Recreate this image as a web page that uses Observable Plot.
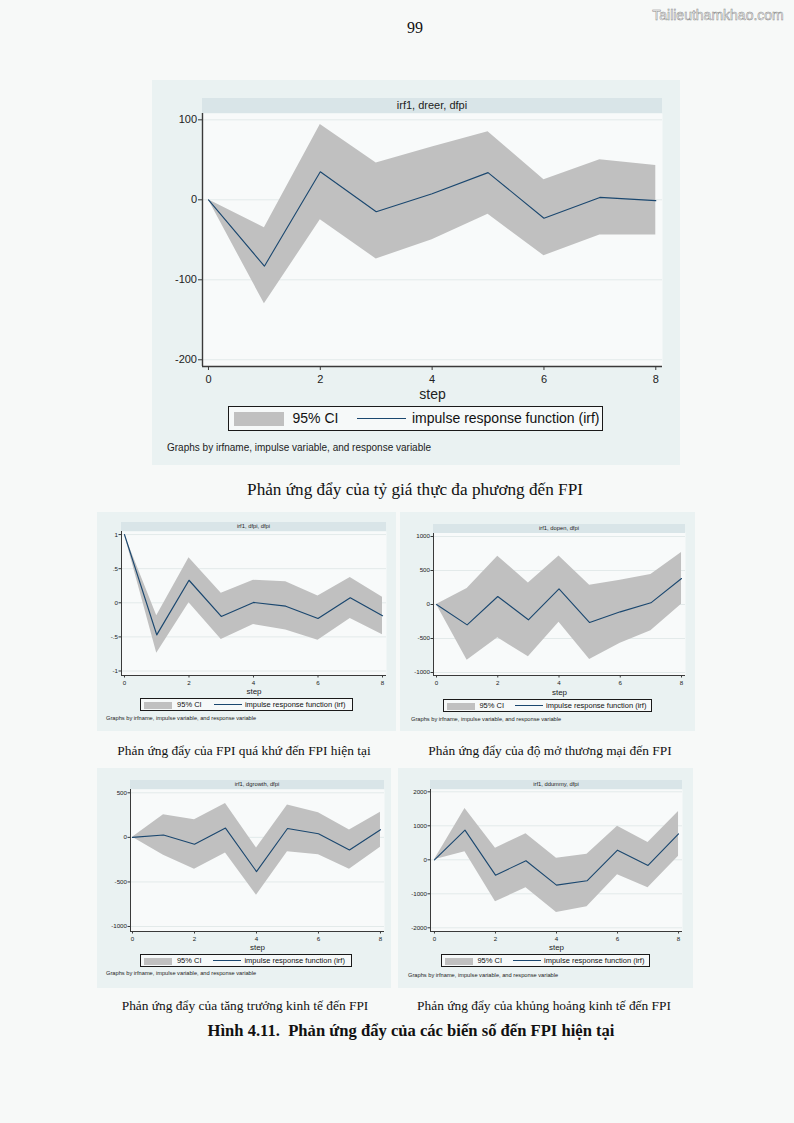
<!DOCTYPE html>
<html><head><meta charset="utf-8">
<script src="https://cdn.jsdelivr.net/npm/d3@7"></script>
<script src="https://cdn.jsdelivr.net/npm/@observablehq/plot@0.6"></script>
<style>
html,body{margin:0;padding:0;}
body{width:794px;height:1123px;background:#f7f9f8;position:relative;overflow:hidden;font-family:"Liberation Serif","Times New Roman",serif;}
.panel{position:absolute;background:#eaf2f2;}
.svgbox{position:absolute;}
.strip{position:absolute;background:#d9e5e8;font-family:"Liberation Sans",Arial,sans-serif;color:#222;text-align:center;white-space:nowrap;}
.legend{position:absolute;border:1px solid #1a1a1a;background:#f6f9f9;box-sizing:border-box;font-family:"Liberation Sans",Arial,sans-serif;color:#111;}
.legend div{position:absolute;white-space:nowrap;}
.note{position:absolute;font-family:"Liberation Sans",Arial,sans-serif;color:#222;white-space:nowrap;}
.cap{position:absolute;white-space:nowrap;transform:translate(-50%,-50%);color:#111;}
</style></head><body>
<div class="cap" style="left:415px;top:28px;font-size:16px;">99</div>
<div class="cap" style="left:718px;top:15px;font-size:14px;font-family:'Liberation Sans',Arial,sans-serif;color:#fbfbfb;-webkit-text-stroke:0.5px #8a8a8a;">Tailieuthamkhao.com</div>
<div class="cap" style="left:415px;top:490px;font-size:17.2px;">Phản ứng đẩy của tỷ giá thực đa phương đến FPI</div>
<div class="cap" style="left:244px;top:751px;font-size:13.4px;">Phản ứng đẩy của FPI quá khứ đến FPI hiện tại</div>
<div class="cap" style="left:550px;top:751px;font-size:13.4px;">Phản ứng đẩy của độ mở thương mại đến FPI</div>
<div class="cap" style="left:245px;top:1006px;font-size:13.4px;">Phản ứng đẩy của tăng trưởng kinh tế đến FPI</div>
<div class="cap" style="left:544px;top:1006px;font-size:13.4px;">Phản ứng đẩy của khủng hoảng kinh tế đến FPI</div>
<div class="cap" style="left:411px;top:1031px;font-size:16.6px;font-weight:bold;">Hình 4.11.&nbsp; Phản ứng đẩy của các biến số đến FPI hiện tại</div>
<script>
// ---- data ----
const steps = [0, 1, 2, 3, 4, 5, 6, 7, 8];
const xTicks = [0, 2, 4, 6, 8];

const dreerIrf = [0, -83, 35, -15, 7.5, 34, -23, 3, -1];
const dreerLo  = [0, -130, -25, -74, -50, -18, -70, -44, -44];
const dreerHi  = [0, -35, 94, 46, 66, 85, 25, 50, 43];
const dreerTicks = [-200, -100, 0, 100];

const dfpiIrf = [1, -0.47, 0.33, -0.2, 0.005, -0.05, -0.23, 0.074, -0.19];
const dfpiLo  = [1, -0.74, 0, -0.54, -0.32, -0.4, -0.55, -0.23, -0.47];
const dfpiHi  = [1, -0.19, 0.66, 0.14, 0.33, 0.31, 0.1, 0.37, 0.08];
const dfpiTicks = [-1, -0.5, 0, 0.5, 1];

const dopenIrf = [0, -299, 118, -225, 230, -265, -108, 25, 382];
const dopenLo  = [0, -818, -490, -769, -260, -808, -568, -387, 5];
const dopenHi  = [0, 235, 710, 318, 715, 284, 358, 441, 764];
const dopenTicks = [-1000, -500, 0, 500, 1000];

const dgrowthIrf = [0, 26, -78, 104, -384, 100, 41, -142, 86];
const dgrowthLo  = [0, -201, -358, -175, -649, -160, -194, -358, -112];
const dgrowthHi  = [0, 254, 198, 380, -119, 362, 276, 82, 283];
const dgrowthTicks = [-1000, -500, 0, 500];

const ddummyIrf = [0, 872, -451, -29, -745, -617, 284, -167, 764];
const ddummyLo  = [0, 235, -1235, -823, -1548, -1382, -441, -823, 108];
const ddummyHi  = [0, 1509, 343, 764, 49, 167, 990, 510, 1421];
const ddummyTicks = [-2000, -1000, 0, 1000, 2000];

const fmt = d => {
  if (d === 0) return "0";
  const a = Math.abs(d);
  const s = a < 1 ? String(a).replace(/^0/, "") : String(a);
  return (d < 0 ? "-" : "") + s;
};

// ---- layout configs ----
const charts = [
  {title: "irf1, dreer, dfpi", irf: dreerIrf, lo: dreerLo, hi: dreerHi, yt: dreerTicks,
   panel: [152, 80, 528, 385], frame: [202, 113, 662, 366], xd: [-0.107, 8.12], yd: [-208.4, 107.9],
   strip: [98, 15], stripFont: 11, tickFont: 11, tickSize: 4, tickPad: 1.5, xPad: 4.5, stepFont: 14, stepDy: 28,
   legend: [228, 406, 375, 25], legFont: 14, note: [167, 448], noteFont: 10, lw: 1.1, axw: 1.4},
  {title: "irf1, dfpi, dfpi", irf: dfpiIrf, lo: dfpiLo, hi: dfpiHi, yt: dfpiTicks,
   panel: [97, 512, 299, 219], frame: [121, 531, 386, 675], xd: [-0.093, 8.124], yd: [-1.066, 1.045],
   strip: [522, 9], stripFont: 5.8, tickFont: 6.2, tickSize: 2.5, tickPad: 1, xPad: 2.5, stepFont: 8, stepDy: 16,
   legend: [140, 698, 213, 13], legFont: 7.5, note: [106, 718], noteFont: 5.7, lw: 1.2, axw: 1},
  {title: "irf1, dopen, dfpi", irf: dopenIrf, lo: dopenLo, hi: dopenHi, yt: dopenTicks,
   panel: [400, 512, 295, 219], frame: [433, 532, 685, 675], xd: [-0.098, 8.13], yd: [-1044, 1059],
   strip: [524, 8.5], stripFont: 5.8, tickFont: 6.2, tickSize: 2.5, tickPad: 1, xPad: 2.5, stepFont: 8, stepDy: 17,
   legend: [443, 699, 209, 13], legFont: 7.5, note: [411, 719], noteFont: 5.7, lw: 1.1, axw: 1},
  {title: "irf1, dgrowth, dfpi", irf: dgrowthIrf, lo: dgrowthLo, hi: dgrowthHi, yt: dgrowthTicks,
   panel: [97, 768, 294, 220], frame: [130, 789, 384, 931], xd: [-0.065, 8.13], yd: [-1056, 537],
   strip: [780, 9], stripFont: 5.8, tickFont: 6.2, tickSize: 2.5, tickPad: 1, xPad: 2.5, stepFont: 8, stepDy: 16,
   legend: [140, 954, 212, 13], legFont: 7.5, note: [106, 973], noteFont: 5.7, lw: 1.1, axw: 1},
  {title: "irf1, ddummy, dfpi", irf: ddummyIrf, lo: ddummyLo, hi: ddummyHi, yt: ddummyTicks,
   panel: [398, 768, 295, 220], frame: [430, 789, 682, 931], xd: [-0.13, 8.13], yd: [-2109, 2068],
   strip: [780, 9], stripFont: 5.8, tickFont: 6.2, tickSize: 2.5, tickPad: 1, xPad: 2.5, stepFont: 8, stepDy: 16,
   legend: [441, 954, 209, 13], legFont: 7.5, note: [408, 975], noteFont: 5.7, lw: 1.1, axw: 1}
];

function el(cls, style, html) {
  const d = document.createElement("div");
  d.className = cls;
  Object.assign(d.style, style);
  if (html != null) d.innerHTML = html;
  document.body.appendChild(d);
  return d;
}

for (const c of charts) {
  const [pl, pt, pw, ph] = c.panel;
  const [fl, ft, fr, fb] = c.frame;
  el("panel", {left: pl + "px", top: pt + "px", width: pw + "px", height: ph + "px"});

  const data = steps.map((s, i) => ({step: s, irf: c.irf[i], lo: c.lo[i], hi: c.hi[i]}));
  const svg = Plot.plot({
    width: pw, height: ph,
    marginLeft: fl - pl, marginTop: ft - pt, marginRight: pl + pw - fr, marginBottom: pt + ph - fb,
    style: {background: "transparent", fontFamily: "Liberation Sans, Arial, sans-serif", color: "#222", overflow: "visible"},
    x: {domain: c.xd},
    y: {domain: c.yd},
    marks: [
      Plot.frame({fill: "#f8fafa", stroke: null}),
      Plot.ruleY(c.yt, {stroke: "#e3eaea", strokeWidth: 1}),
      Plot.areaY(data, {x: "step", y1: "lo", y2: "hi", fill: "#c0c0c0", fillOpacity: 1}),
      Plot.lineY(data, {x: "step", y: "irf", stroke: "#1a476f", strokeWidth: c.lw}),
      Plot.ruleX([c.xd[0]], {stroke: "#3a3a3a", strokeWidth: c.axw}),
      Plot.ruleY([c.yd[0]], {stroke: "#3a3a3a", strokeWidth: c.axw}),
      Plot.axisY({ticks: c.yt, tickFormat: fmt, tickSize: c.tickSize, tickPadding: c.tickPad,
                  fontSize: c.tickFont, label: null, stroke: "#3a3a3a"}),
      Plot.axisX({ticks: xTicks, tickFormat: d => String(d), tickSize: c.tickSize, tickPadding: c.xPad,
                  fontSize: c.tickFont, label: null, stroke: "#3a3a3a"}),
      Plot.text(["step"], {frameAnchor: "bottom", lineAnchor: "middle", dy: c.stepDy, fontSize: c.stepFont, fill: "#222"})
    ]
  });
  const box = el("svgbox", {left: pl + "px", top: pt + "px", width: pw + "px", height: ph + "px"});
  box.appendChild(svg);

  // title strip
  el("strip", {left: fl + "px", top: c.strip[0] + "px", width: (fr - fl) + "px", height: c.strip[1] + "px",
               lineHeight: c.strip[1] + "px", fontSize: c.stripFont + "px"}, c.title);

  // legend
  const [ll, lt, lwid, lh] = c.legend;
  const k = lwid / 375;
  const lg = el("legend", {left: ll + "px", top: lt + "px", width: lwid + "px", height: lh + "px", fontSize: c.legFont + "px"});
  const sw = document.createElement("div");
  Object.assign(sw.style, {left: (5 * k) + "px", top: (lh * 0.2) + "px", width: (50 * k) + "px", height: (lh * 0.54) + "px", background: "#c0c0c0"});
  lg.appendChild(sw);
  const t1 = document.createElement("div");
  Object.assign(t1.style, {left: (63.5 * k) + "px", top: "0px", height: (lh - 2) + "px", lineHeight: (lh - 2) + "px"});
  t1.textContent = "95% CI";
  lg.appendChild(t1);
  const ln = document.createElement("div");
  Object.assign(ln.style, {left: (128 * k) + "px", top: ((lh - 2) / 2 - 0.5) + "px", width: (49 * k) + "px", height: "0px", borderTop: (c.lw) + "px solid #1a476f"});
  lg.appendChild(ln);
  const t2 = document.createElement("div");
  Object.assign(t2.style, {left: (183 * k) + "px", top: "0px", height: (lh - 2) + "px", lineHeight: (lh - 2) + "px"});
  t2.textContent = "impulse response function (irf)";
  lg.appendChild(t2);

  // note
  el("note", {left: c.note[0] + "px", top: (c.note[1] - c.noteFont * 0.6) + "px", fontSize: c.noteFont + "px", lineHeight: (c.noteFont * 1.2) + "px"},
     "Graphs by irfname, impulse variable, and response variable");
}
</script>
</body></html>
